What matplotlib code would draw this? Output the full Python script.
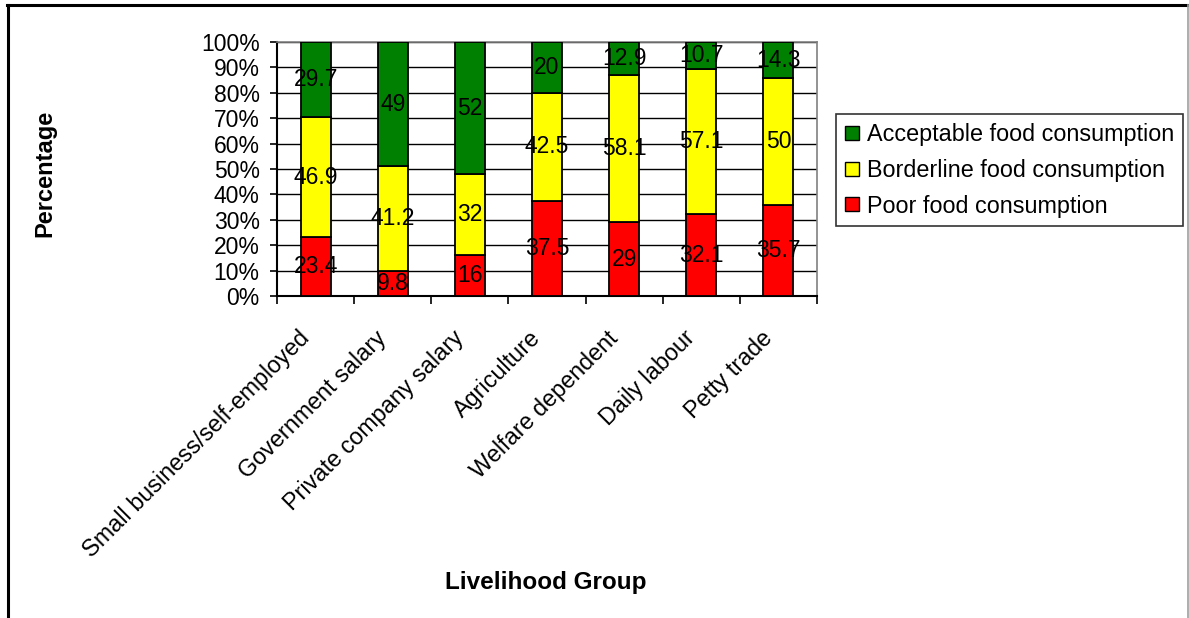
import numpy as np
import matplotlib
matplotlib.use("Agg")
import matplotlib.pyplot as plt
from matplotlib.lines import Line2D

plt.rcParams["font.family"] = ["Liberation Sans", "DejaVu Sans"]

groups = [
    "Small business/self-employed",
    "Government salary",
    "Private company salary",
    "Agriculture",
    "Welfare dependent",
    "Daily labour",
    "Petty trade",
]
poor = [23.4, 9.8, 16, 37.5, 29, 32.1, 35.7]
borderline = [46.9, 41.2, 32, 42.5, 58.1, 57.1, 50]
acceptable = [29.7, 49, 52, 20, 12.9, 10.7, 14.3]

series = [
    ("Poor food consumption", poor, "#ff0000"),
    ("Borderline food consumption", borderline, "#ffff00"),
    ("Acceptable food consumption", acceptable, "#008000"),
]

W, H = 1189, 618
fig = plt.figure(figsize=(W / 100, H / 100), dpi=100)
ax = fig.add_axes([277 / W, 1 - 296 / H, (817 - 277) / W, (296 - 42) / H])

x = np.arange(len(groups))
bottom = np.zeros(len(groups))
for name, vals, color in series:
    vals = np.array(vals, dtype=float)
    ax.bar(x, vals, width=0.39, bottom=bottom, color=color,
           edgecolor="black", linewidth=1.3, zorder=3, label=name)
    for xi, b, v in zip(x, bottom, vals):
        ax.text(xi, b + v / 2, f"{v:g}", ha="center", va="center",
                fontsize=16.5, zorder=4)
    bottom += vals

ax.set_xlim(-0.5, len(groups) - 0.5)
ax.set_ylim(0, 100)

# y axis: percentage ticks with black gridlines
ax.set_yticks(np.arange(0, 101, 10))
ax.set_yticklabels([f"{v}%" for v in range(0, 101, 10)], fontsize=16.5)
ax.tick_params(axis="y", direction="out", length=5, width=1.2, pad=7.5)
ax.yaxis.grid(True, color="black", linewidth=1, zorder=0)
ax.set_axisbelow(True)

# x axis: ticks between categories, slanted labels ending just left of centre
ax.set_xticks(x - 0.23)
ax.set_xticks(np.arange(-0.5, len(groups), 1), minor=True)
ax.tick_params(axis="x", which="major", length=0, pad=22)
ax.tick_params(axis="x", which="minor", direction="out", length=5.5, width=1.2)
ax.set_xticklabels(groups, fontsize=16.8, rotation=45, ha="right", va="top",
                   rotation_mode="anchor")

for side in ("left", "bottom"):
    ax.spines[side].set_color("black")
    ax.spines[side].set_linewidth(1.5)
for side in ("top", "right"):
    ax.spines[side].set_color("#808080")
    ax.spines[side].set_linewidth(1.2)

fig.text(45 / W, 1 - 173 / H, "Percentage", rotation=90, ha="center",
         va="center", fontsize=17, fontweight="bold")
fig.text(546 / W, 1 - 583 / H, "Livelihood Group", ha="center",
         va="center", fontsize=17.5, fontweight="bold")

# legend, top entry first
handles = [Line2D([], [], marker="s", linestyle="none", markersize=10,
                  markerfacecolor=c, markeredgecolor="black", markeredgewidth=1)
           for _, _, c in reversed(series)]
labels = [n for n, _, _ in reversed(series)]
leg = fig.legend(handles, labels, loc="upper left",
                 bbox_to_anchor=(836 / W, 1 - 114 / H),
                 bbox_transform=fig.transFigure, fontsize=16.8,
                 frameon=True, fancybox=False, shadow=False, borderaxespad=0,
                 handlelength=0.6, handletextpad=0.35, labelspacing=0.55,
                 borderpad=0.38)
leg.get_frame().set_edgecolor("black")
leg.get_frame().set_linewidth(1.2)

# outer chart border
fig.add_artist(Line2D([7 / W, 1188 / W], [1 - 5 / H, 1 - 5 / H],
                      transform=fig.transFigure, color="black", linewidth=2.2))
fig.add_artist(Line2D([8 / W, 8 / W], [1 - 5 / H, 0],
                      transform=fig.transFigure, color="black", linewidth=2.2))
fig.add_artist(Line2D([1188 / W, 1188 / W], [1 - 5 / H, 0],
                      transform=fig.transFigure, color="#a0a0a0", linewidth=1.2))

fig.savefig("out.png", dpi=100)
